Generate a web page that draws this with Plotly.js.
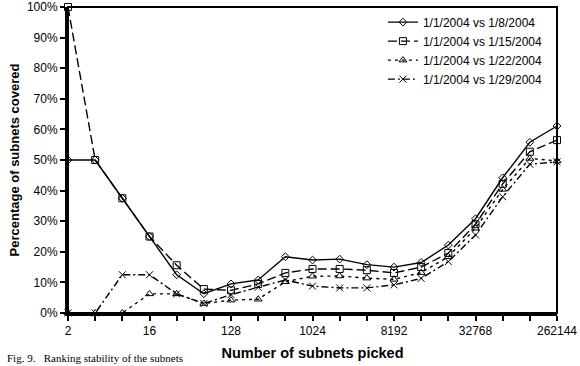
<!DOCTYPE html>
<html>
<head>
<meta charset="utf-8">
<script src="https://cdn.plot.ly/plotly-3.0.1.min.js"></script>
<style>
html,body{margin:0;padding:0;background:#fff;}
#chart{width:580px;height:366px;}
</style>
</head>
<body>
<div id="chart"></div>
<script>
// category positions (2, 4, 8, ... subnets picked) and their tick labels
const xIndex = [0,1,2,3,4,5,6,7,8,9,10,11,12,13,14,15,16,17,18];
const tickLabels = ["2","","","16","","","128","","","1024","","","8192","","","32768","","","262144"];

const seriesNames = [
  "1/1/2004 vs 1/8/2004",
  "1/1/2004 vs 1/15/2004",
  "1/1/2004 vs 1/22/2004",
  "1/1/2004 vs 1/29/2004"
];

// percentage of subnets covered
const vs0108 = [50,50,37.5,25,12.5,6.3,9.5,10.8,18.4,17.3,17.6,15.8,15.0,16.5,22.2,30.8,44.2,55.8,61.1];
const vs0115 = [100,50,37.5,25,15.6,7.8,7.4,9.5,13.1,14.4,14.4,14.0,13.1,15.0,19.6,29.0,42.2,52.7,56.5];
const vs0122 = [0,0,0,6.25,6.25,3.1,4.2,4.5,10.2,12.0,12.1,11.4,11.0,13.2,18.4,27.7,40.4,50.5,49.7];
const vs0129 = [0,0,12.5,12.5,6.25,3.1,6.0,8.4,10.8,8.8,8.2,8.2,9.2,11.3,16.8,25.5,38.0,48.6,49.4];

const yTicks = [0,10,20,30,40,50,60,70,80,90,100];
const yTickLabels = ["0%","10%","20%","30%","40%","50%","60%","70%","80%","90%","100%"];

const FONT = "Liberation Sans, Arial, sans-serif";

const styles = [
  {dash:"solid", symbol:"diamond-open", size:6},
  {dash:"9px,4px", symbol:"square-open", size:7},
  {dash:"3px,4px", symbol:"triangle-up-open", size:7},
  {dash:"7px,3px,2px,3px", symbol:"x-thin-open", size:7}
];
const ys = [vs0108, vs0115, vs0122, vs0129];

const traces = ys.map((y,i)=>({
  type:"scatter",
  mode:"lines+markers",
  x:xIndex,
  y:y,
  name:seriesNames[i],
  line:{color:"#000", width:1.4, dash:styles[i].dash},
  marker:{symbol:styles[i].symbol, size:styles[i].size, color:"#000", line:{color:"#000", width:1}},
  cliponaxis:false
}));

const layout = {
  width:580, height:366,
  margin:{l:68, r:23, t:7, b:53},
  paper_bgcolor:"#fff", plot_bgcolor:"#fff",
  font:{family:FONT, size:12, color:"#000"},
  showlegend:true,
  legend:{x:0.644, y:0.998, xanchor:"left", yanchor:"top",
          bgcolor:"rgba(0,0,0,0)", borderwidth:0,
          font:{family:FONT, size:12, color:"#000"}, tracegroupgap:0},
  xaxis:{
    range:[0,18], tickmode:"array", tickvals:xIndex, ticktext:tickLabels,
    showgrid:false, zeroline:false, showline:true, linecolor:"#000", linewidth:3,
    ticks:"outside", ticklen:5, tickwidth:2, tickcolor:"#000",
    tickfont:{family:FONT, size:12, color:"#000"},
    title:{text:"<b>Number of subnets picked</b>", font:{family:FONT, size:14.5, color:"#000"}, standoff:11},
    automargin:false
  },
  yaxis:{
    range:[0,100], tickmode:"array", tickvals:yTicks, ticktext:yTickLabels,
    showgrid:false, zeroline:false, showline:true, linecolor:"#000", linewidth:3,
    ticks:"outside", ticklen:5, tickwidth:2, tickcolor:"#000",
    tickfont:{family:FONT, size:12, color:"#000"},
    title:{text:"<b>Percentage of subnets covered</b>", font:{family:FONT, size:13, color:"#000"}, standoff:5},
    automargin:false
  },
  shapes:[{type:"rect", xref:"paper", yref:"paper", x0:0, x1:1, y0:0, y1:1,
           line:{color:"#000", width:2}, fillcolor:"rgba(0,0,0,0)", layer:"above"}],
  annotations:[{
    xref:"paper", yref:"paper", x:-0.128, y:-0.174, xanchor:"left", yanchor:"bottom",
    showarrow:false, align:"left",
    text:"Fig. 9.   Ranking stability of the subnets",
    font:{family:"Liberation Serif, Times New Roman, serif", size:11, color:"#000"}
  }]
};

Plotly.newPlot("chart", traces, layout, {displayModeBar:false, staticPlot:true});
</script>
</body>
</html>
